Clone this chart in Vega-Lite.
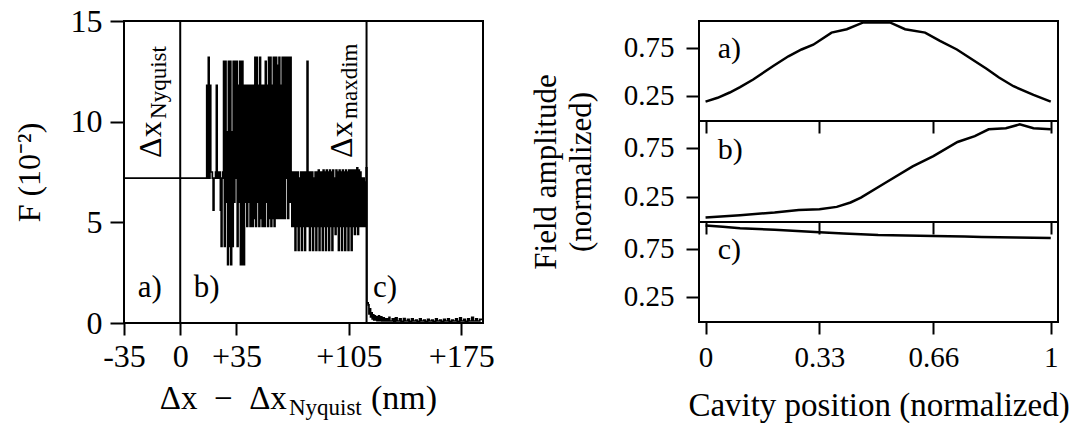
{
  "$schema": "https://vega.github.io/schema/vega-lite/v6.json",
  "background": "white",
  "padding": {"left": 12, "top": 4, "right": 0, "bottom": 0},
  "config": {
    "font": "Liberation Serif",
    "view": {"stroke": "black", "strokeWidth": 2},
    "axis": {"grid": false, "domain": false, "tickColor": "black", "tickWidth": 2, "labelColor": "black", "titleColor": "black", "labelFont": "Liberation Serif", "titleFont": "Liberation Serif", "titleFontWeight": "normal", "labelFlush": false, "labelOverlap": false}
  },
  "datasets": {
    "F": [
      {"x": -35, "y": 7.2}, {"x": 16, "y": 7.2}, {"x": 16.5, "y": 11.8}, {"x": 17, "y": 7.2}, {"x": 17.5, "y": 13.2}, {"x": 18, "y": 7.2}, {"x": 18.5, "y": 11.8}, {"x": 19, "y": 7.5}, {"x": 20, "y": 7.2}, {"x": 20.5, "y": 5.6}, {"x": 21, "y": 7.2}, {"x": 22, "y": 7.5}, {"x": 22.5, "y": 11.8}, {"x": 23, "y": 7.2}, {"x": 24, "y": 7.5}, {"x": 25, "y": 5.6}, {"x": 25.5, "y": 3.8}, {"x": 26, "y": 7.2}, {"x": 26.5, "y": 7.5},
      {"x": 27, "y": 13.0}, {"x": 27.5, "y": 3.8}, {"x": 28, "y": 13.0}, {"x": 28.5, "y": 6.0}, {"x": 29, "y": 9.5}, {"x": 29.5, "y": 2.9}, {"x": 30, "y": 13.0}, {"x": 30.5, "y": 3.8}, {"x": 31, "y": 13.0}, {"x": 31.5, "y": 2.9}, {"x": 32, "y": 9.5}, {"x": 32.5, "y": 3.8}, {"x": 33, "y": 13.0}, {"x": 33.5, "y": 6.0}, {"x": 34, "y": 13.0}, {"x": 34.5, "y": 7.2}, {"x": 35, "y": 13.0}, {"x": 35.5, "y": 3.8}, {"x": 36, "y": 11.8}, {"x": 36.5, "y": 6.0}, {"x": 37, "y": 13.0}, {"x": 37.5, "y": 2.9}, {"x": 38, "y": 2.9}, {"x": 38.5, "y": 13.0}, {"x": 39, "y": 6.0}, {"x": 39.5, "y": 2.9}, {"x": 40, "y": 11.8},
      {"x": 40.5, "y": 6.0}, {"x": 41, "y": 11.8}, {"x": 41.5, "y": 4.8}, {"x": 42, "y": 11.8}, {"x": 42.5, "y": 6.0}, {"x": 43, "y": 11.8}, {"x": 43.5, "y": 4.8}, {"x": 44, "y": 7.5}, {"x": 44.5, "y": 11.8}, {"x": 45, "y": 4.8},
      {"x": 45.5, "y": 11.8}, {"x": 46, "y": 5.2}, {"x": 46.5, "y": 13.2}, {"x": 47, "y": 4.8}, {"x": 47.5, "y": 13.2}, {"x": 48, "y": 6.0}, {"x": 48.5, "y": 11.8}, {"x": 49, "y": 4.8}, {"x": 49.5, "y": 13.2}, {"x": 50, "y": 5.2}, {"x": 50.5, "y": 11.8}, {"x": 51, "y": 4.8}, {"x": 51.5, "y": 7.5}, {"x": 52, "y": 11.8}, {"x": 52.5, "y": 4.8}, {"x": 53, "y": 13.0}, {"x": 53.5, "y": 6.0}, {"x": 54, "y": 11.8}, {"x": 54.5, "y": 4.8}, {"x": 55, "y": 13.2}, {"x": 55.5, "y": 5.2}, {"x": 56, "y": 13.2}, {"x": 56.5, "y": 4.8}, {"x": 57, "y": 11.8}, {"x": 57.5, "y": 5.2}, {"x": 58, "y": 13.2}, {"x": 58.5, "y": 4.8}, {"x": 59, "y": 7.5}, {"x": 59.5, "y": 13.2}, {"x": 60, "y": 5.2}, {"x": 60.5, "y": 12.8}, {"x": 61, "y": 5.2}, {"x": 61.5, "y": 13.2}, {"x": 62, "y": 5.2}, {"x": 62.5, "y": 11.8}, {"x": 63, "y": 5.2}, {"x": 63.5, "y": 13.2}, {"x": 64, "y": 5.2}, {"x": 64.5, "y": 13.2}, {"x": 65, "y": 5.2}, {"x": 65.5, "y": 13.2}, {"x": 66, "y": 7.2}, {"x": 66.5, "y": 13.2}, {"x": 67, "y": 5.2}, {"x": 67.5, "y": 13.2}, {"x": 68, "y": 6.0}, {"x": 68.5, "y": 13.2}, {"x": 69, "y": 7.5}, {"x": 69.5, "y": 4.8},
      {"x": 70, "y": 7.5}, {"x": 70.5, "y": 4.8}, {"x": 71, "y": 7.5}, {"x": 71.5, "y": 3.6}, {"x": 72, "y": 7.5}, {"x": 72.5, "y": 4.8}, {"x": 73, "y": 7.5}, {"x": 73.5, "y": 3.6}, {"x": 74, "y": 7.2}, {"x": 74.5, "y": 4.8}, {"x": 75, "y": 7.5}, {"x": 75.5, "y": 3.6}, {"x": 76, "y": 7.5}, {"x": 76.5, "y": 4.8}, {"x": 77, "y": 7.5}, {"x": 77.5, "y": 3.6}, {"x": 78, "y": 7.5}, {"x": 78.5, "y": 4.8}, {"x": 79, "y": 13.0}, {"x": 79.5, "y": 4.8}, {"x": 80, "y": 7.5}, {"x": 80.5, "y": 3.6}, {"x": 81, "y": 7.5}, {"x": 81.5, "y": 4.8}, {"x": 82, "y": 7.5}, {"x": 82.5, "y": 3.6}, {"x": 83, "y": 7.2}, {"x": 83.5, "y": 4.8}, {"x": 84, "y": 7.5}, {"x": 84.5, "y": 3.6}, {"x": 85, "y": 7.5}, {"x": 85.5, "y": 4.8}, {"x": 86, "y": 7.6}, {"x": 86.5, "y": 3.6}, {"x": 87, "y": 7.5}, {"x": 87.5, "y": 4.8}, {"x": 88, "y": 7.5}, {"x": 88.5, "y": 3.6}, {"x": 89, "y": 7.6}, {"x": 89.5, "y": 4.8}, {"x": 90, "y": 7.5}, {"x": 90.5, "y": 3.6}, {"x": 91, "y": 7.6}, {"x": 91.5, "y": 4.8}, {"x": 92, "y": 7.5}, {"x": 92.5, "y": 3.6}, {"x": 93, "y": 7.6}, {"x": 93.5, "y": 4.8}, {"x": 94, "y": 7.5}, {"x": 94.5, "y": 3.6}, {"x": 95, "y": 7.6}, {"x": 95.5, "y": 4.8}, {"x": 96, "y": 7.2}, {"x": 96.5, "y": 4.4}, {"x": 97, "y": 7.6}, {"x": 97.5, "y": 4.8}, {"x": 98, "y": 7.5}, {"x": 98.5, "y": 3.6}, {"x": 99, "y": 7.6}, {"x": 99.5, "y": 4.8}, {"x": 100, "y": 7.5}, {"x": 100.5, "y": 3.6}, {"x": 101, "y": 7.6}, {"x": 101.5, "y": 4.8}, {"x": 102, "y": 7.5}, {"x": 102.5, "y": 3.6}, {"x": 103, "y": 7.6}, {"x": 103.5, "y": 4.8}, {"x": 104, "y": 7.5}, {"x": 104.5, "y": 3.6}, {"x": 105, "y": 7.6}, {"x": 105.5, "y": 4.8}, {"x": 106, "y": 7.6}, {"x": 106.5, "y": 3.6}, {"x": 107, "y": 7.6}, {"x": 107.5, "y": 4.8}, {"x": 108, "y": 7.6}, {"x": 108.5, "y": 4.4}, {"x": 109, "y": 7.6}, {"x": 109.5, "y": 4.8}, {"x": 110, "y": 7.7}, {"x": 110.5, "y": 4.4}, {"x": 111, "y": 7.6}, {"x": 111.5, "y": 4.8}, {"x": 112, "y": 7.5}, {"x": 112.5, "y": 4.8}, {"x": 113, "y": 7.2}, {"x": 113.5, "y": 4.8}, {"x": 114, "y": 7.2}, {"x": 114.5, "y": 4.8}, {"x": 115, "y": 7.0}, {"x": 115.5, "y": 4.8}, {"x": 115.8, "y": 7.7},
      {"x": 116.2, "y": 1.0}, {"x": 117, "y": 0.9}, {"x": 117.5, "y": 0.45}, {"x": 118, "y": 0.7}, {"x": 118.5, "y": 0.3}, {"x": 119, "y": 0.5}, {"x": 119.5, "y": 0.2}, {"x": 120, "y": 0.4}, {"x": 120.5, "y": 0.15}, {"x": 121, "y": 0.35}, {"x": 121.5, "y": 0.15}, {"x": 122, "y": 0.3}, {"x": 122.5, "y": 0.12}, {"x": 123.5, "y": 0.35}, {"x": 124, "y": 0.12}, {"x": 125, "y": 0.3}, {"x": 125.5, "y": 0.1}, {"x": 126.5, "y": 0.25}, {"x": 127, "y": 0.1}, {"x": 128, "y": 0.2}, {"x": 129, "y": 0.1}, {"x": 130, "y": 0.28}, {"x": 130.5, "y": 0.1}, {"x": 132, "y": 0.2}, {"x": 133, "y": 0.08}, {"x": 134, "y": 0.25}, {"x": 135, "y": 0.1}, {"x": 136.5, "y": 0.2}, {"x": 137.5, "y": 0.08}, {"x": 139, "y": 0.22}, {"x": 140, "y": 0.1}, {"x": 141.5, "y": 0.18}, {"x": 142.5, "y": 0.08}, {"x": 144, "y": 0.2}, {"x": 145, "y": 0.1}, {"x": 146.5, "y": 0.15}, {"x": 147.5, "y": 0.08}, {"x": 149, "y": 0.2}, {"x": 150, "y": 0.1}, {"x": 151.5, "y": 0.15}, {"x": 152.5, "y": 0.08}, {"x": 154, "y": 0.18}, {"x": 155, "y": 0.1}, {"x": 156.5, "y": 0.15}, {"x": 157.5, "y": 0.08}, {"x": 159, "y": 0.2}, {"x": 160, "y": 0.1}, {"x": 161.5, "y": 0.15}, {"x": 162.5, "y": 0.08}, {"x": 164, "y": 0.18}, {"x": 165, "y": 0.1}, {"x": 166.5, "y": 0.2}, {"x": 167.5, "y": 0.08}, {"x": 169, "y": 0.15}, {"x": 170, "y": 0.1}, {"x": 171.5, "y": 0.2}, {"x": 172.5, "y": 0.08}, {"x": 174, "y": 0.25}, {"x": 175, "y": 0.1}, {"x": 176.5, "y": 0.18}, {"x": 177.5, "y": 0.08}, {"x": 179, "y": 0.2}, {"x": 180, "y": 0.1}, {"x": 181.5, "y": 0.28}, {"x": 182.5, "y": 0.1}, {"x": 184, "y": 0.2}, {"x": 185, "y": 0.1}, {"x": 186.5, "y": 0.18}, {"x": 188.5, "y": 0.1}
    ],
    "vlines": [{"x": 0, "y": 0, "y2": 15}, {"x": 116, "y": 0, "y2": 15}],
    "panelLabelsLeft": [{"x": -26.5, "y": 1.3, "t": "a)"}, {"x": 8.5, "y": 1.3, "t": "b)"}, {"x": 120.0, "y": 1.3, "t": "c)"}],
    "rotMain": [{"x": -12.1, "y": 8.2, "t": "Δx"}, {"x": 107.0, "y": 8.2, "t": "Δx"}],
    "rotSub": [{"x": -12.1, "y": 8.2, "t": "Nyquist"}, {"x": 107.0, "y": 8.2, "t": "maxdim"}],
    "xtitleMain": [{"x": 66.4, "y": 0, "t": "Δx\u2002−\u2002Δx"}],
    "xtitleSub": [{"x": 66.4, "y": 0, "t": "Nyquist"}],
    "xtitleUnit": [{"x": 118.8, "y": 0, "t": "(nm)"}],
    "fa": [
      {"pos": 0, "amp": 0.19}, {"pos": 0.035, "amp": 0.23}, {"pos": 0.07, "amp": 0.285}, {"pos": 0.1, "amp": 0.34}, {"pos": 0.138, "amp": 0.42}, {"pos": 0.196, "amp": 0.56}, {"pos": 0.24, "amp": 0.66}, {"pos": 0.278, "amp": 0.73}, {"pos": 0.312, "amp": 0.78}, {"pos": 0.365, "amp": 0.905}, {"pos": 0.409, "amp": 0.94}, {"pos": 0.457, "amp": 1.01}, {"pos": 0.534, "amp": 1.01}, {"pos": 0.578, "amp": 0.94}, {"pos": 0.636, "amp": 0.905}, {"pos": 0.679, "amp": 0.82}, {"pos": 0.728, "amp": 0.73}, {"pos": 0.814, "amp": 0.53}, {"pos": 0.85, "amp": 0.44}, {"pos": 0.892, "amp": 0.35}, {"pos": 0.95, "amp": 0.26}, {"pos": 1.0, "amp": 0.19}
    ],
    "fb": [
      {"pos": 0, "amp": 0.036}, {"pos": 0.1, "amp": 0.06}, {"pos": 0.2, "amp": 0.087}, {"pos": 0.27, "amp": 0.114}, {"pos": 0.33, "amp": 0.12}, {"pos": 0.38, "amp": 0.145}, {"pos": 0.42, "amp": 0.19}, {"pos": 0.45, "amp": 0.24}, {"pos": 0.52, "amp": 0.39}, {"pos": 0.6, "amp": 0.56}, {"pos": 0.66, "amp": 0.665}, {"pos": 0.73, "amp": 0.81}, {"pos": 0.78, "amp": 0.87}, {"pos": 0.82, "amp": 0.94}, {"pos": 0.87, "amp": 0.95}, {"pos": 0.91, "amp": 0.99}, {"pos": 0.95, "amp": 0.95}, {"pos": 1.0, "amp": 0.94}
    ],
    "fc": [
      {"pos": 0, "amp": 0.99}, {"pos": 0.05, "amp": 0.975}, {"pos": 0.1, "amp": 0.96}, {"pos": 0.2, "amp": 0.945}, {"pos": 0.33, "amp": 0.92}, {"pos": 0.4, "amp": 0.905}, {"pos": 0.5, "amp": 0.89}, {"pos": 0.58, "amp": 0.885}, {"pos": 0.66, "amp": 0.88}, {"pos": 0.75, "amp": 0.875}, {"pos": 0.8, "amp": 0.87}, {"pos": 0.9, "amp": 0.865}, {"pos": 1.0, "amp": 0.86}
    ],
    "la": [{"pos": 0.035, "amp": 0.64, "t": "a)"}],
    "lb": [{"pos": 0.035, "amp": 0.64, "t": "b)"}],
    "lc": [{"pos": 0.035, "amp": 0.64, "t": "c)"}]
  },
  "bounds": "flush",
  "spacing": 216,
  "hconcat": [
    {
      "width": 359,
      "height": 302,
      "encoding": {
        "x": {"field": "x", "type": "quantitative", "scale": {"domain": [-35, 188.5], "nice": false, "zero": false},
          "axis": {"values": [-35, 0, 35, 105, 175], "title": null, "tickSize": 12, "labelFontSize": 32, "labelPadding": 6,
            "labelExpr": "datum.value > 0 ? '+' + datum.value : (datum.value < 0 ? '-' + (-datum.value) : '0')"}},
        "y": {"field": "y", "type": "quantitative", "scale": {"domain": [0, 15], "nice": false, "zero": false},
          "axis": {"values": [0, 5, 10, 15], "title": "F (10⁻²)", "titleFontSize": 32, "titlePadding": 24, "tickSize": 14, "labelFontSize": 32, "labelPadding": 8}}
      },
      "layer": [
        {
          "data": {"name": "F"},
          "mark": {"type": "line", "color": "black", "strokeWidth": 1.7, "interpolate": "step-after", "clip": true}
        },
        {
          "data": {"name": "vlines"},
          "mark": {"type": "rule", "color": "black", "strokeWidth": 2},
          "encoding": {"y2": {"field": "y2"}}
        },
        {
          "data": {"name": "panelLabelsLeft"},
          "mark": {"type": "text", "align": "left", "baseline": "alphabetic", "fontSize": 31, "color": "black"},
          "encoding": {"text": {"field": "t"}}
        },
        {
          "data": {"name": "rotMain"},
          "mark": {"type": "text", "align": "left", "baseline": "alphabetic", "angle": 270, "fontSize": 32, "color": "black"},
          "encoding": {"text": {"field": "t"}}
        },
        {
          "data": {"name": "rotSub"},
          "mark": {"type": "text", "align": "left", "baseline": "alphabetic", "angle": 270, "fontSize": 23, "dx": 39, "dy": 5, "color": "black"},
          "encoding": {"text": {"field": "t"}}
        },
        {
          "data": {"name": "xtitleMain"},
          "mark": {"type": "text", "align": "right", "baseline": "alphabetic", "fontSize": 33, "dy": 86, "color": "black"},
          "encoding": {"text": {"field": "t"}}
        },
        {
          "data": {"name": "xtitleSub"},
          "mark": {"type": "text", "align": "left", "baseline": "alphabetic", "fontSize": 23, "dx": 2, "dy": 92, "color": "black"},
          "encoding": {"text": {"field": "t"}}
        },
        {
          "data": {"name": "xtitleUnit"},
          "mark": {"type": "text", "align": "left", "baseline": "alphabetic", "fontSize": 34, "dy": 86, "color": "black"},
          "encoding": {"text": {"field": "t"}}
        }
      ]
    },
    {
      "bounds": "flush",
      "spacing": 0,
      "vconcat": [
        {
          "width": 359, "height": 100,
          "encoding": {
            "x": {"field": "pos", "type": "quantitative", "scale": {"domain": [-0.019, 1.021], "nice": false, "zero": false}, "axis": {"values": [0, 0.33, 0.66, 1], "labels": false, "title": null, "tickSize": 12}},
            "y": {"field": "amp", "type": "quantitative", "scale": {"domain": [-0.01, 1.025], "nice": false, "zero": false}, "axis": {"values": [0.25, 0.75], "format": ".2f", "title": null, "tickSize": 13, "labelFontSize": 29, "labelPadding": 12}}
          },
          "layer": [
            {"data": {"name": "fa"}, "mark": {"type": "line", "color": "black", "strokeWidth": 2.5}},
            {"data": {"name": "la"}, "mark": {"type": "text", "align": "left", "baseline": "alphabetic", "fontSize": 30, "color": "black"}, "encoding": {"text": {"field": "t"}}}
          ]
        },
        {
          "width": 359, "height": 101,
          "encoding": {
            "x": {"field": "pos", "type": "quantitative", "scale": {"domain": [-0.019, 1.021], "nice": false, "zero": false}, "axis": {"values": [0, 0.33, 0.66, 1], "labels": false, "title": null, "tickSize": 12}},
            "y": {"field": "amp", "type": "quantitative", "scale": {"domain": [-0.01, 1.025], "nice": false, "zero": false}, "axis": {"values": [0.25, 0.75], "format": ".2f", "title": ["Field amplitude", "(normalized)"], "titleFontSize": 31, "titleLineHeight": 35, "titlePadding": 26, "tickSize": 13, "labelFontSize": 29, "labelPadding": 12}}
          },
          "layer": [
            {"data": {"name": "fb"}, "mark": {"type": "line", "color": "black", "strokeWidth": 2.5}},
            {"data": {"name": "lb"}, "mark": {"type": "text", "align": "left", "baseline": "alphabetic", "fontSize": 30, "color": "black"}, "encoding": {"text": {"field": "t"}}}
          ]
        },
        {
          "width": 359, "height": 100,
          "encoding": {
            "x": {"field": "pos", "type": "quantitative", "scale": {"domain": [-0.019, 1.021], "nice": false, "zero": false}, "axis": {"values": [0, 0.33, 0.66, 1], "labelExpr": "'' + datum.value", "title": "Cavity position (normalized)", "titleFontSize": 33, "titlePadding": 17, "tickSize": 12, "labelFontSize": 29, "labelPadding": 9}},
            "y": {"field": "amp", "type": "quantitative", "scale": {"domain": [-0.01, 1.025], "nice": false, "zero": false}, "axis": {"values": [0.25, 0.75], "format": ".2f", "title": null, "tickSize": 13, "labelFontSize": 29, "labelPadding": 12}}
          },
          "layer": [
            {"data": {"name": "fc"}, "mark": {"type": "line", "color": "black", "strokeWidth": 2.5}},
            {"data": {"name": "lc"}, "mark": {"type": "text", "align": "left", "baseline": "alphabetic", "fontSize": 30, "color": "black"}, "encoding": {"text": {"field": "t"}}}
          ]
        }
      ]
    }
  ]
}
